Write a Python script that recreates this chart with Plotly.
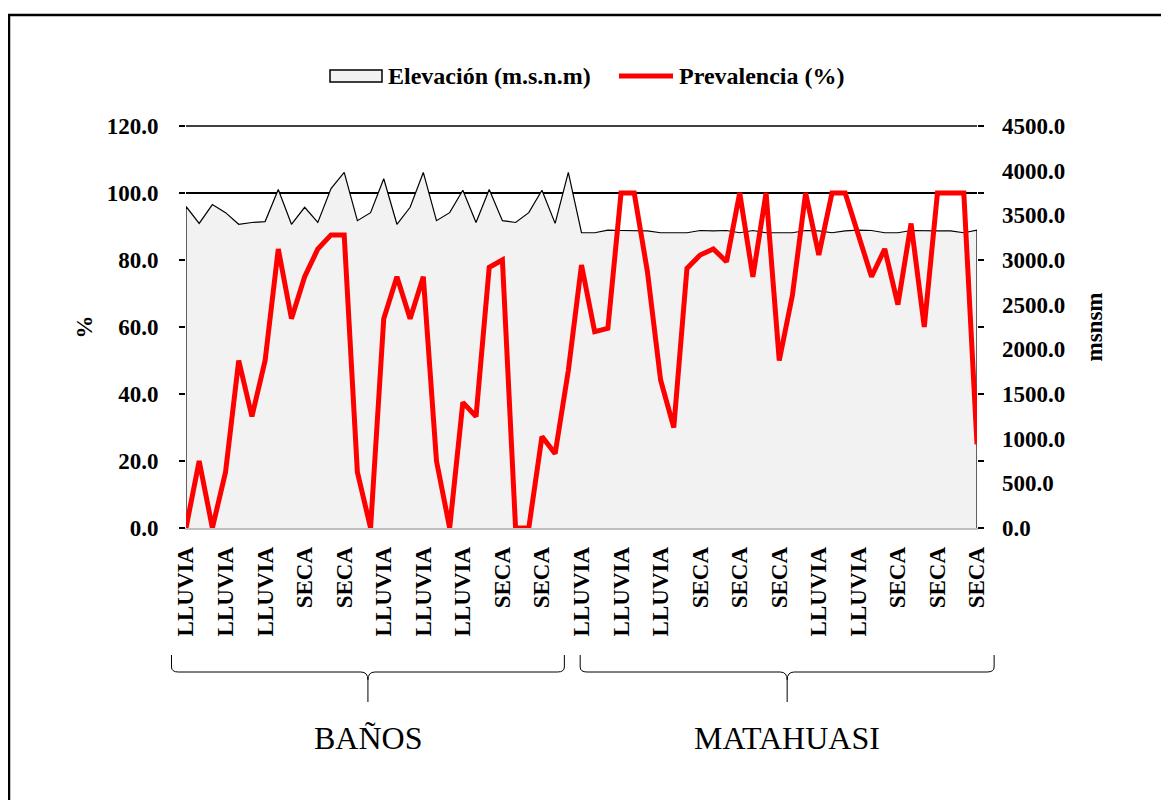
import plotly.graph_objects as go

# Prevalencia (%) per sampling point, Baños (30) then Matahuasi (31)
prevalencia = [
    0, 20, 0, 16.7, 50, 33.3, 50, 83.3, 62.5, 75,
    83.3, 87.5, 87.5, 16.7, 0, 62.5, 75, 62.5, 75, 20,
    0, 37.5, 33.3, 77.8, 80, 0, 0, 27.3, 22.2, 47,
    78.5, 58.6, 59.6, 100, 100, 76.5, 44.2, 30, 77.5, 81.5,
    83.3, 79.5, 100, 75, 100, 50, 69.5, 100, 81.5, 100,
    100, 87.5, 75, 83.3, 66.7, 90.9, 60, 100, 100, 100,
    25,
]

# Elevación (m.s.n.m) per sampling point
elevacion = [
    3600, 3410, 3620, 3530, 3400, 3420, 3430, 3790, 3400, 3590,
    3420, 3800, 3980, 3440, 3530, 3910, 3400, 3590, 3980, 3440,
    3530, 3780, 3420, 3790, 3440, 3420, 3530, 3780, 3410, 3980,
    3305, 3305, 3335, 3330, 3330, 3325, 3305, 3305, 3305, 3330,
    3325, 3330, 3305, 3330, 3305, 3305, 3305, 3330, 3325, 3305,
    3325, 3335, 3330, 3305, 3305, 3330, 3325, 3325, 3325, 3305,
    3335,
]

# season label shown under every third point
tick_labels = [
    "LLUVIA", "LLUVIA", "LLUVIA", "SECA", "SECA", "LLUVIA", "LLUVIA",
    "LLUVIA", "SECA", "SECA", "LLUVIA", "LLUVIA", "LLUVIA", "SECA",
    "SECA", "SECA", "LLUVIA", "LLUVIA", "SECA", "SECA", "SECA",
]
tick_step = 3

groups = ["BAÑOS", "MATAHUASI"]
series_names = ["Elevación (m.s.n.m)", "Prevalencia (%)"]

FONT = "Liberation Serif, Times New Roman, serif"
BOLD = dict(family=FONT, size=23, weight="bold", color="black")

n = len(prevalencia)
xs = list(range(n))
x_range = [0, n - 1]
pct_max, elev_max = 120, 4500

# plot area in page pixels (page has an 8px body margin)
PX0, PX1, PY0, PY1 = 186, 977, 126, 528
pw, ph = PX1 - PX0, PY1 - PY0


def px(x):
    return (x - PX0) / pw


def py(y):
    return (PY1 - y) / ph


# area polygon closed down to zero so the sides get the black outline
area_x = [xs[0]] + xs + [xs[-1]]
area_y = [0] + elevacion + [0]

fig = go.Figure()

fig.add_trace(
    go.Scatter(
        x=area_x,
        y=area_y,
        name=series_names[0],
        mode="lines",
        fill="toself",
        fillcolor="#F2F2F2",
        line=dict(color="black", width=1.2),
        yaxis="y",
        hoverinfo="skip",
        showlegend=False,
    )
)

fig.add_trace(
    go.Scatter(
        x=xs,
        y=prevalencia,
        name=series_names[1],
        mode="lines",
        line=dict(color="#FF0000", width=5),
        yaxis="y2",
        showlegend=False,
    )
)

fig.update_layout(
    width=1161,
    height=792,
    margin=dict(l=PX0 - 8, r=1161 - (PX0 - 8) - pw, t=PY0 - 8, b=792 - (PY0 - 8) - ph),
    paper_bgcolor="white",
    plot_bgcolor="white",
    font=dict(family=FONT, color="black"),
    xaxis=dict(
        range=x_range,
        tickvals=xs[::tick_step],
        ticktext=tick_labels,
        tickangle=-90,
        tickfont=BOLD,
        showgrid=False,
        zeroline=False,
        showline=True,
        linecolor="#BFBFBF",
        linewidth=1.5,
        ticks="",
        ticklabelstandoff=8,
    ),
    # elevation axis (right)
    yaxis=dict(
        range=[0, elev_max],
        tickvals=list(range(0, elev_max + 1, 500)),
        tickformat=".1f",
        side="right",
        tickfont=BOLD,
        showgrid=False,
        zeroline=False,
        ticks="",
        ticklabelstandoff=24,
        title=dict(text="msnsm", font=BOLD, standoff=21),
    ),
    # prevalence axis (left), overlaid so the red line sits above the area
    yaxis2=dict(
        range=[0, pct_max],
        tickvals=list(range(0, pct_max + 1, 20)),
        tickformat=".1f",
        overlaying="y",
        side="left",
        tickfont=BOLD,
        showgrid=True,
        gridcolor="black",
        gridwidth=1.5,
        zeroline=False,
        showline=True,
        linecolor="rgba(0,0,0,0)",
        mirror="ticks",
        ticks="outside",
        ticklen=6,
        tickwidth=1.5,
        tickcolor="black",
        ticklabelstandoff=16,
        title=dict(text="%", font=BOLD, standoff=7),
    ),
)

shapes = []

# top gridline (plotly drops the one sitting on the range edge)
shapes.append(
    dict(type="line", xref="paper", yref="paper", layer="below",
         x0=0, x1=1, y0=pct_max / pct_max, y1=pct_max / pct_max,
         line=dict(color="black", width=1.5))
)

# braces grouping the two localities (spans in point-index units)
brace_spans = [(-1.1, 28.7), (29.9, 61.3)]


def to_paper(i):
    return (i - x_range[0]) / (x_range[1] - x_range[0])


top = py(655)
hline = py(672)
tip = py(702)
q = 5 / ph
dx = 7 / pw
dy2 = 8 / ph

for (lo_i, hi_i), name in zip(brace_spans, groups):
    lo = to_paper(lo_i)
    hi = to_paper(hi_i)
    c = (lo + hi) / 2
    path = (
        f"M {lo},{top} L {lo},{hline + q} Q {lo},{hline} {lo + dx},{hline} "
        f"L {c - dx},{hline} Q {c},{hline} {c},{hline - dy2} L {c},{tip} "
        f"M {hi},{top} L {hi},{hline + q} Q {hi},{hline} {hi - dx},{hline} "
        f"L {c + dx},{hline} Q {c},{hline} {c},{hline - dy2}"
    )
    shapes.append(
        dict(type="path", path=path, xref="paper", yref="paper",
             line=dict(color="black", width=1))
    )
    fig.add_annotation(
        x=c, y=py(738), xref="paper", yref="paper",
        text=name, showarrow=False,
        font=dict(family=FONT, size=32, color="black"),
        xanchor="center", yanchor="middle",
    )

# legend drawn by hand: framed grey box for the area, thick red line
shapes.append(
    dict(type="rect", xref="paper", yref="paper",
         x0=px(330), x1=px(382), y0=py(82), y1=py(70),
         fillcolor="#F2F2F2", line=dict(color="black", width=1.5))
)
shapes.append(
    dict(type="line", xref="paper", yref="paper",
         x0=px(619), x1=px(673), y0=py(76), y1=py(76),
         line=dict(color="#FF0000", width=5))
)
for x_left, label in zip([386, 677], series_names):
    fig.add_annotation(
        x=px(x_left), y=py(76), xref="paper", yref="paper",
        text=label, showarrow=False,
        font=dict(family=FONT, size=24, weight="bold", color="black"),
        xanchor="left", yanchor="middle",
    )

# outer frame of the chart
shapes.append(
    dict(type="rect", xref="paper", yref="paper",
         x0=px(9), x1=px(1200), y0=py(830), y1=py(15),
         line=dict(color="black", width=2.5), fillcolor="rgba(0,0,0,0)")
)

fig.update_layout(shapes=shapes)

fig.write_html("out.html")
